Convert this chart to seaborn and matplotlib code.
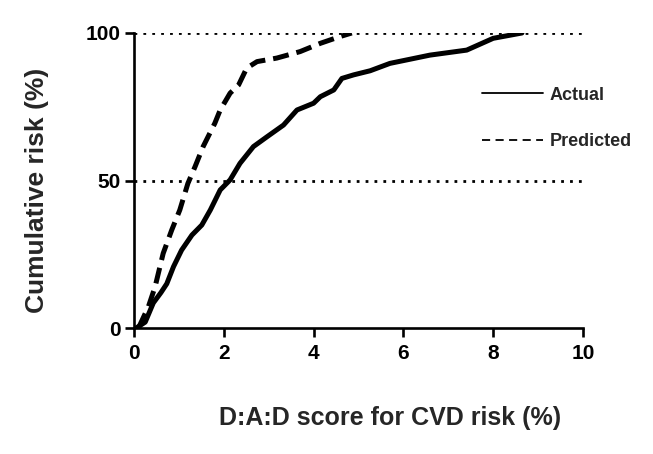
import numpy as np
import pandas as pd
import seaborn as sns
import matplotlib
matplotlib.use("Agg")
import matplotlib.pyplot as plt
from matplotlib.lines import Line2D

# ── Data (D:A:D score %, cumulative risk %) ──
actual_x = [0.05, 0.25, 0.43, 0.60, 0.73, 0.88, 1.06, 1.29, 1.51, 1.70, 1.92, 2.14,
            2.36, 2.66, 2.96, 3.33, 3.63, 4.00, 4.15, 4.45, 4.63, 4.89, 5.26, 5.70,
            6.59, 7.41, 8.00, 8.64]
actual_y = [0.0, 2.0, 8.5, 12.0, 15.0, 20.8, 26.4, 31.5, 34.9, 40.0, 46.8, 50.2,
            55.8, 61.5, 64.8, 68.8, 73.9, 76.2, 78.4, 80.7, 84.6, 85.8, 87.2, 89.7,
            92.5, 94.2, 98.2, 100.0]

pred_x = [0.10, 0.32, 0.47, 0.65, 0.84, 1.02, 1.20, 1.36, 1.54, 1.80, 1.92, 2.14,
          2.33, 2.51, 2.74, 3.18, 3.70, 4.15, 4.59, 4.85]
pred_y = [0.0, 7.2, 14.0, 25.3, 33.2, 40.0, 49.0, 54.7, 61.5, 69.4, 73.9, 79.6,
          82.4, 88.1, 90.3, 91.5, 93.7, 96.5, 98.8, 100.0]

ref_levels = [50, 100]
x_ticks = [0, 2, 4, 6, 8, 10]
y_ticks = [0, 50, 100]

df_actual = pd.DataFrame({"score": actual_x, "risk": actual_y})
df_pred = pd.DataFrame({"score": pred_x, "risk": pred_y})

sns.set_style("ticks")
plt.rcParams["font.family"] = ["Liberation Sans", "DejaVu Sans"]
plt.rcParams["font.weight"] = "bold"

fig = plt.figure(figsize=(6.53, 4.54), dpi=100)
ax = fig.add_axes([134 / 653, 1 - 328 / 454, 449 / 653, 295 / 454])

# dotted reference lines
for lvl in ref_levels:
    ax.axhline(lvl, xmin=0, xmax=1, color="black", lw=2.0,
               linestyle=(0, (1, 2.2)), zorder=1)

sns.lineplot(data=df_actual, x="score", y="risk", sort=False, estimator=None,
             color="black", lw=3.6, ax=ax, legend=False, zorder=3)
sns.lineplot(data=df_pred, x="score", y="risk", sort=False, estimator=None,
             color="black", lw=3.6, linestyle=(0, (3.2, 1.6)), ax=ax,
             legend=False, zorder=3)

ax.set_xlim(0, 10)
ax.set_ylim(0, 100)
ax.set_xticks(x_ticks)
ax.set_yticks(y_ticks)
ax.tick_params(axis="both", which="major", length=6.5, width=1.9,
               labelsize=15, direction="out", colors="black")
ax.tick_params(axis="x", pad=5)
ax.tick_params(axis="y", pad=3)
for lab in ax.get_xticklabels() + ax.get_yticklabels():
    lab.set_fontweight("bold")

sns.despine(ax=ax)
for side in ["left", "bottom"]:
    ax.spines[side].set_linewidth(1.9)
    ax.spines[side].set_color("black")

ax.set_xlabel("D:A:D score for CVD risk (%)", fontsize=18, fontweight="bold")
ax.xaxis.set_label_coords((390 - 134) / 449, (328 - 418) / 295)
ax.xaxis.label.set_va("center")
ax.set_ylabel("Cumulative risk (%)", fontsize=19, fontweight="bold")
ax.yaxis.set_label_coords((37.5 - 134) / 449, (328 - 190) / 295)
ax.yaxis.label.set_va("center")

handles = [
    Line2D([], [], color="black", lw=1.3),
    Line2D([], [], color="black", lw=1.3, linestyle=(0, (4.5, 3))),
]
ax.legend(handles, ["Actual", "Predicted"], loc="center left",
          bbox_to_anchor=((482 - 134) / 449, (328 - 118.5) / 295), frameon=False,
          borderpad=0, borderaxespad=0, handlelength=3.4, handletextpad=0.35,
          labelspacing=1.65, prop={"size": 13, "weight": "bold"})

fig.savefig("out.png", dpi=100)
